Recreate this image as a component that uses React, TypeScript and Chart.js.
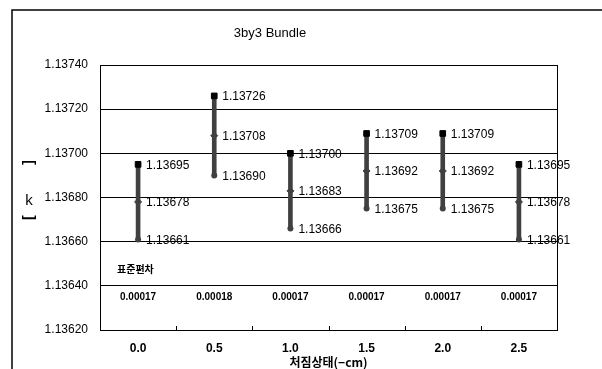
import React, { useEffect, useRef } from 'react';
import { Chart, registerables } from 'chart.js';

Chart.register(...registerables);

const categories = ['0.0', '0.5', '1.0', '1.5', '2.0', '2.5'];
const maxValues = [1.13695, 1.13726, 1.137, 1.13709, 1.13709, 1.13695];
const meanValues = [1.13678, 1.13708, 1.13683, 1.13692, 1.13692, 1.13678];
const minValues = [1.13661, 1.1369, 1.13666, 1.13675, 1.13675, 1.13661];
const stdValues = ['0.00017', '0.00018', '0.00017', '0.00017', '0.00017', '0.00017'];
const yMin = 1.1362;
const yMax = 1.1374;
const yStep = 0.0002;
const chartTitle = '3by3 Bundle';
const xTitle = '처짐상태(−cm)';
const stdLabel = '표준편차';

const NUM_FONT = '"Liberation Sans", Arial, sans-serif';
const KR_FONT = '"Noto Sans CJK KR", "Noto Sans", sans-serif';

const extras = {
  id: 'extras',
  beforeDraw(chart: any) {
    const ctx = chart.ctx;
    ctx.save();
    ctx.fillStyle = '#fff';
    ctx.fillRect(0, 0, chart.width, chart.height);
    ctx.strokeStyle = '#000';
    ctx.lineWidth = 1.5;
    ctx.strokeRect(12, 10, chart.width + 40, chart.height + 40);
    ctx.restore();
  },
  afterDatasetsDraw(chart: any) {
    const ctx = chart.ctx;
    const area = chart.chartArea;
    const xs = chart.scales.x;
    ctx.save();
    ctx.strokeStyle = '#000';
    ctx.lineWidth = 1;
    ctx.strokeRect(Math.round(area.left) + 0.5, Math.round(area.top) + 0.5,
      Math.round(area.right - area.left), Math.round(area.bottom - area.top));
    const half = (xs.getPixelForValue(1) - xs.getPixelForValue(0)) / 2;
    const bounds: number[] = categories.map((_, i) => xs.getPixelForValue(i) - half);
    bounds.push(xs.getPixelForValue(categories.length - 1) + half);
    ctx.beginPath();
    bounds.forEach((bx) => {
      const px = Math.round(bx) + 0.5;
      ctx.moveTo(px, area.bottom);
      ctx.lineTo(px, area.bottom - 4);
    });
    ctx.stroke();

    ctx.fillStyle = '#000';
    ctx.font = `12px ${NUM_FONT}`;
    ctx.textAlign = 'left';
    ctx.textBaseline = 'middle';
    const series = [maxValues, meanValues, minValues];
    series.forEach((vals, si) => {
      const meta = chart.getDatasetMeta(si + 1);
      meta.data.forEach((pt: any, j: number) => {
        ctx.fillText(vals[j].toFixed(5), pt.x + 8, pt.y + 1);
      });
    });

    ctx.font = `bold 10px ${KR_FONT}`;
    ctx.fillText(stdLabel, area.left + 17, 269);
    ctx.font = `bold 10px ${NUM_FONT}`;
    ctx.textAlign = 'center';
    stdValues.forEach((s, j) => {
      ctx.fillText(s, xs.getPixelForValue(j), 297);
    });

    ctx.font = `13px ${NUM_FONT}`;
    ctx.fillText(chartTitle, 270, 33);

    ctx.font = `bold 12px ${KR_FONT}`;
    ctx.fillText(xTitle, (area.left + area.right) / 2, 362);

    const cy = (area.top + area.bottom) / 2;
    const tx = 29;
    ctx.font = `15px ${NUM_FONT}`;
    ctx.fillText('k', tx, cy + 3);
    ctx.font = `bold 14px ${NUM_FONT}`;
    ctx.save();
    ctx.translate(tx, cy - 35);
    ctx.rotate(Math.PI / 2);
    ctx.fillText('[', 0, 0);
    ctx.restore();
    ctx.save();
    ctx.translate(tx, cy + 20);
    ctx.rotate(Math.PI / 2);
    ctx.fillText(']', 0, 0);
    ctx.restore();

    ctx.restore();
  },
};

export default function App() {
  const ref = useRef<HTMLCanvasElement | null>(null);
  useEffect(() => {
    document.body.style.margin = '0';
    const canvas = ref.current;
    if (!canvas) return;
    const chart = new Chart(canvas, {
      type: 'bar',
      data: {
        labels: categories,
        datasets: [
          {
            type: 'bar',
            data: minValues.map((v, i) => [v, maxValues[i]]) as any,
            backgroundColor: '#404040',
            borderWidth: 0,
            barThickness: 4,
            order: 10,
          },
          {
            type: 'line',
            data: maxValues,
            showLine: false,
            pointStyle: 'rect',
            pointRadius: 4,
            pointBorderWidth: 1,
            pointBackgroundColor: '#000',
            pointBorderColor: '#000',
            order: 1,
          },
          {
            type: 'line',
            data: meanValues,
            showLine: false,
            pointStyle: 'rectRot',
            pointRadius: 3.5,
            pointBorderWidth: 1,
            pointBackgroundColor: '#404040',
            pointBorderColor: '#404040',
            order: 2,
          },
          {
            type: 'line',
            data: minValues,
            showLine: false,
            pointStyle: 'circle',
            pointRadius: 3,
            pointBorderWidth: 0,
            pointBackgroundColor: '#404040',
            pointBorderColor: '#404040',
            order: 3,
          },
        ] as any,
      },
      options: {
        responsive: false,
        animation: false,
        layout: { padding: { left: 12, right: 45, top: 65, bottom: 0 } },
        plugins: {
          legend: { display: false },
          tooltip: { enabled: false },
          title: { display: false },
        },
        scales: {
          x: {
            offset: true,
            grid: { display: false, drawTicks: false },
            border: { display: false },
            ticks: {
              color: '#000',
              font: { family: NUM_FONT, size: 12, weight: 'bold' },
              padding: 11,
              maxRotation: 0,
            },
            afterFit: (s: any) => {
              s.height = 39;
            },
          },
          y: {
            min: yMin,
            max: yMax,
            ticks: {
              stepSize: yStep,
              color: '#000',
              font: { family: NUM_FONT, size: 12 },
              padding: 12,
              callback: (v: any) => Number(v).toFixed(5),
            },
            grid: { color: '#000', lineWidth: 1, drawTicks: false },
            border: { display: false },
            afterFit: (s: any) => {
              s.width = 88;
            },
          },
        } as any,
      },
      plugins: [extras],
    });
    return () => chart.destroy();
  }, []);
  return <canvas ref={ref} width={602} height={369} style={{ display: 'block' }} />;
}
